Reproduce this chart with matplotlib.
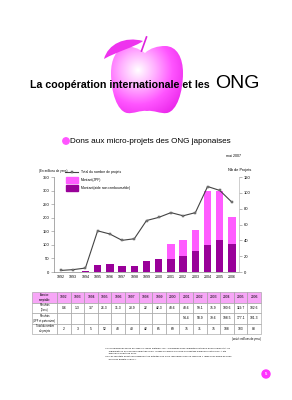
import matplotlib
matplotlib.use("Agg")
import matplotlib.pyplot as plt
import numpy as np
from matplotlib.path import Path
from matplotlib.patches import PathPatch, Rectangle, Circle
from matplotlib.lines import Line2D
from matplotlib.colors import LinearSegmentedColormap

plt.rcParams['font.family'] = ['Liberation Sans', 'DejaVu Sans']

# data (millions de yens / nombre de projets)
years = [1992, 1993, 1994, 1995, 1996, 1997, 1998, 1999, 2000, 2001, 2002, 2003, 2004, 2005, 2006]
dons = [0.6, 1.3, 3.7, 26.3, 31.3, 23.9, 22, 42.3, 48.6, 48.6, 59.1, 75.9, 100.6, 119.7, 102.6]
jpf = [None, None, None, None, None, None, None, None, None, 54.4, 58.9, 79.6, 198.5, 177.1, 101.3]
projets = [2, 3, 5, 52, 48, 40, 42, 65, 69, 75, 71, 75, 108, 103, 88]

pink = '#ff5cff'
purple = '#990099'
grey = '#888888'

fig = plt.figure(figsize=(2.92, 4.0), dpi=100)

# decoration layer in pixel coordinates
deco = fig.add_axes([0, 0, 1, 1])
deco.set_xlim(0, 292)
deco.set_ylim(400, 0)
deco.axis('off')

# apple
C4 = Path.CURVE4
verts = [(145, 53),
         (138, 48), (132, 46), (125, 47),
         (116, 49), (111, 60), (111, 73),
         (111, 92), (117, 111), (127, 113),
         (134, 114), (140, 110), (147, 111),
         (154, 110), (160, 114), (167, 113),
         (177, 111), (183, 92), (183, 73),
         (183, 58), (177, 46), (165, 46),
         (158, 46), (150, 48), (145, 53)]
codes = [Path.MOVETO] + [C4] * 24
apple = PathPatch(Path(verts, codes), facecolor='none', edgecolor='none')
deco.add_patch(apple)
gx, gy = np.meshgrid(np.linspace(105, 190, 200), np.linspace(40, 120, 200))
r = np.hypot((gx - 138) / 52, (gy - 70) / 52)
cmap = LinearSegmentedColormap.from_list('apple', ['#ffffff', '#ffb0ff', '#ff55ff', '#ec2aec'])
im = deco.imshow(r, extent=(105, 190, 120, 40), cmap=cmap, vmin=0, vmax=1, aspect='auto', zorder=1)
im.set_clip_path(apple)
leaf = Path([(104, 59), (108, 44), (125, 36), (143, 41), (135, 47), (118, 51), (104, 59)],
            [Path.MOVETO, C4, C4, C4, C4, C4, C4])
deco.add_patch(PathPatch(leaf, facecolor='#ee33ee', edgecolor='none', zorder=2))
deco.plot([146.5, 141.5], [37, 51], color='#dd22dd', lw=1.2, zorder=2)

deco.text(30, 85, "La coopération internationale et les", fontsize=7.7, fontweight='bold',
          va='center', ha='left', zorder=5)
deco.text(215, 83.5, "ONG", fontsize=14, va='center', ha='left', zorder=5)

# subtitle
deco.add_patch(Circle((66, 141), 3.2, color='#ff55ff', zorder=2))
deco.text(70, 141.5, "Dons aux micro-projets des ONG japonaises", fontsize=5.9, va='center', ha='left')
deco.text(241, 156, "mai 2007", fontsize=2.6, ha='right', va='center')
deco.text(39, 171, "(En millions de yens)", fontsize=2.2, ha='left', va='center')
deco.text(228, 170.5, "Nb de Projets", fontsize=2.8, ha='left', va='center')

# legend
deco.add_line(Line2D([65, 78], [172, 172], color='#444444', lw=0.8))
deco.add_line(Line2D([71.5], [172], color='#444444', marker='s', markersize=2, mfc=grey, mec='#444444', mew=0.3))
deco.add_patch(Rectangle((66, 177), 12, 5.5, color=pink))
deco.add_patch(Rectangle((66, 185), 12, 5.5, color=purple))
deco.text(81, 172, "Total du nombre de projets", fontsize=2.4, va='center')
deco.text(81, 179.7, "Montant(JPF)", fontsize=2.4, va='center')
deco.text(81, 187.7, "Montant(aide non remboursable)", fontsize=2.4, va='center')

# chart
ax = fig.add_axes([54 / 292, 1 - 272 / 400, (239 - 54) / 292, 95 / 400])
jpf_h = [v if v is not None else 0 for v in jpf]
ax.bar(years, dons, width=0.6, color=purple, zorder=2)
ax.bar(years, jpf_h, bottom=dons, width=0.6, color=pink, zorder=2)
ax.set_xlim(1991.43, 2006.57)
ax.set_ylim(0, 350)
ax.set_yticks(range(0, 351, 50))
ax.set_xticks(years)
ax.set_xticklabels([str(y) for y in years], fontsize=2.6)
ax.tick_params(axis='y', labelsize=3, length=2, width=0.4, color=grey, pad=1.5)
ax.tick_params(axis='x', length=0, pad=2)
for s in ['top', 'right']:
    ax.spines[s].set_visible(False)
for s in ['left', 'bottom']:
    ax.spines[s].set_linewidth(0.5)
    ax.spines[s].set_color(grey)
ax.patch.set_alpha(0)

ax2 = ax.twinx()
ax2.plot(years, projets, '-s', color='#444444', lw=0.8, markersize=2, mfc=grey, mec='#444444', mew=0.3, zorder=3)
ax2.set_ylim(0, 120)
ax2.set_yticks(range(0, 121, 20))
ax2.tick_params(axis='y', labelsize=3, length=2, width=0.4, color=grey, pad=1.5)
for s in ['top', 'left', 'bottom']:
    ax2.spines[s].set_visible(False)
ax2.spines['right'].set_linewidth(0.5)
ax2.spines['right'].set_color('#bbbbbb')

# table
tab = fig.add_axes([32 / 292, 1 - 334 / 400, (261 - 32) / 292, 42 / 400])
tab.axis('off')
fmt = lambda v: '' if v is None else f"{v:g}"
cells = [["Exercice\ncomptable"] + [str(y) for y in years],
         ["Résultats\n(Dons)"] + [fmt(v) for v in dons],
         ["Résultats\n(JPF et partenaires)"] + [fmt(v) for v in jpf],
         ["Total du nombre\nde projets"] + [str(v) for v in projets]]
widths = [25] + [13.6] * len(years)
widths = [w / sum(widths) for w in widths]
t = tab.table(cellText=cells, colWidths=widths, bbox=[0, 0, 1, 1], cellLoc='center')
t.auto_set_font_size(False)
for (i, j), c in t.get_celld().items():
    c.set_linewidth(0.4)
    c.set_edgecolor('#999999')
    c.get_text().set_fontsize(2.4 if j > 0 else 1.8)
    if i == 0:
        c.set_facecolor('#f7a6f7')

# notes
deco.text(261, 339, "(unité: millions de yens)", fontsize=2.0, ha='right', va='center')
notes = ["(*1) Comprend les fonds accordés à Japan Platform(JPF : Organisme géré conjointement par le gouvernement et les",
         "      organisations non gouvernementales pour la mise en œuvre de l'aide humanitaire d'urgence outre-mer). A été",
         "      débloqué à partir de 2001.",
         "(*2) Les résultats avant 2001 indiquent les activités des ONG japonaises dans le cadre de « l'aide sous forme de dons",
         "      pour des projets locaux »."]
for k, line in enumerate(notes):
    deco.text(105, 348.5 + k * 2.65, line, fontsize=1.75, ha='left', va='center')

deco.add_patch(Circle((266, 374), 4, color='#ff33ff'))
deco.text(266, 374.3, "5", fontsize=3, color='white', ha='center', va='center', fontweight='bold')

fig.savefig('out.png', dpi=100)
